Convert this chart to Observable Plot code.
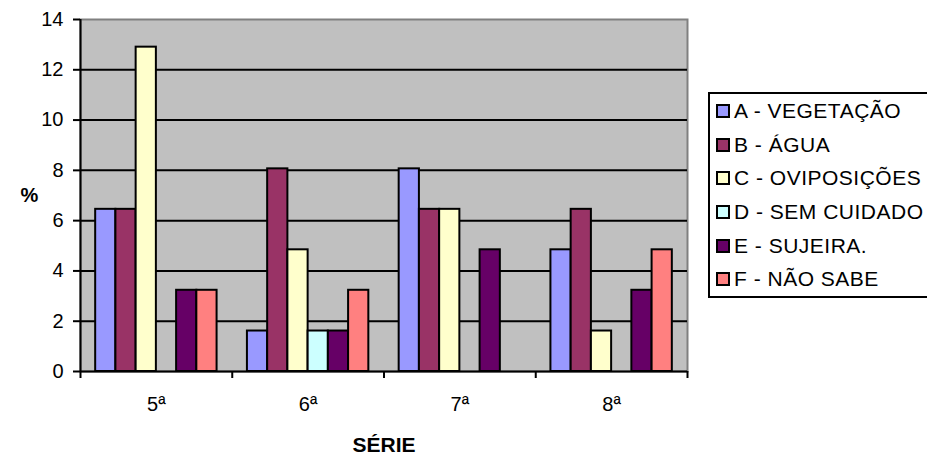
<!DOCTYPE html>
<html>
<head>
<meta charset="utf-8">
<script src="https://cdn.jsdelivr.net/npm/d3@7"></script>
<script src="https://cdn.jsdelivr.net/npm/@observablehq/plot@0.6"></script>
<style>
  html, body { margin: 0; padding: 0; background: #fff; overflow: hidden; }
  #chart { position: relative; width: 927px; height: 455px; font-family: "Liberation Sans", Arial, sans-serif; }
  #chart svg { position: absolute; left: 0; top: 0; }
  #legend { position: absolute; left: 708px; top: 92px; width: 240px; border: 2px solid #000; background: #fff; }
  #legend .item { height: 33.7px; display: flex; align-items: center; font-size: 21px; letter-spacing: 0.5px; white-space: nowrap; color: #000; }
  #legend .sw { width: 10px; height: 10px; border: 2px solid #000; margin-left: 6px; margin-right: 4px; flex: none; }
</style>
</head>
<body>
<div id="chart"></div>
<script>
// School grades on the x axis
const grades = ["5ª", "6ª", "7ª", "8ª"];

// Answer categories (legend order) and their fill colours
const categories = ["A - VEGETAÇÃO", "B - ÁGUA", "C - OVIPOSIÇÕES", "D - SEM CUIDADO", "E - SUJEIRA.", "F - NÃO SABE"];
const colors = ["#9999ff", "#993366", "#ffffcc", "#ccffff", "#660066", "#ff8080"];

// Percentage of answers per category, one value per grade (5ª, 6ª, 7ª, 8ª)
const vegetacao    = [6.45, 1.61, 8.06, 4.84];
const agua         = [6.45, 8.06, 6.45, 6.45];
const oviposicoes  = [12.9, 4.84, 6.45, 1.61];
const semCuidado   = [0, 1.61, 0, 0];
const sujeira      = [3.23, 1.61, 4.84, 3.23];
const naoSabe      = [3.23, 3.23, 0, 4.84];

const series = [vegetacao, agua, oviposicoes, semCuidado, sujeira, naoSabe];
const yTicks = [0, 2, 4, 6, 8, 10, 12, 14];

// Long table; each grade occupies one unit on x, bars side by side within 80% of it
const groupPad = 0.1;
const barW = (1 - 2 * groupPad) / categories.length;
const rows = [];
series.forEach((vals, j) => {
  vals.forEach((v, i) => {
    if (v > 0) {
      const x1 = i + groupPad + j * barW;
      rows.push({grade: grades[i], category: categories[j], value: v, x1, x2: x1 + barW});
    }
  });
});

const font = "'Liberation Sans', Arial, sans-serif";

const chart = Plot.plot({
  width: 927,
  height: 455,
  marginLeft: 80,
  marginRight: 240,
  marginTop: 19,
  marginBottom: 84,
  style: {fontFamily: font, fontSize: "20px", background: "transparent", color: "#000"},
  x: {domain: [0, grades.length]},
  y: {domain: [0, 14]},
  color: {domain: categories, range: colors},
  marks: [
    Plot.frame({fill: "#c0c0c0", stroke: "#808080", strokeWidth: 2}),
    Plot.ruleY(yTicks.filter(d => d > 0 && d < 14), {stroke: "#000", strokeWidth: 2}),
    Plot.rectY(rows, {x1: "x1", x2: "x2", y: "value", fill: "category", stroke: "#000", strokeWidth: 2}),
    Plot.ruleY([0], {stroke: "#000", strokeWidth: 2}),
    Plot.ruleX([0], {stroke: "#000", strokeWidth: 2}),
    Plot.axisY({ticks: yTicks, tickSize: 7, tickPadding: 10, strokeWidth: 2, label: null, fontSize: 20}),
    Plot.axisX({ticks: d3.range(grades.length + 1), tickSize: 7, strokeWidth: 2, tickFormat: () => "", label: null}),
    Plot.axisX({ticks: grades.map((g, i) => i + 0.5), tickSize: 0, tickPadding: 25, tickFormat: d => grades[Math.floor(d)], label: null, fontSize: 20}),
    Plot.text(["SÉRIE"], {frameAnchor: "bottom", dy: 80, fontWeight: "bold", fontSize: 21}),
    Plot.text(["%"], {frameAnchor: "left", dx: -60, fontWeight: "bold", fontSize: 20})
  ]
});

const root = document.getElementById("chart");
root.appendChild(chart);

// Legend box at the right of the plot area
const legend = document.createElement("div");
legend.id = "legend";
categories.forEach((c, j) => {
  const item = document.createElement("div");
  item.className = "item";
  const sw = document.createElement("span");
  sw.className = "sw";
  sw.style.background = colors[j];
  const label = document.createElement("span");
  label.textContent = c;
  item.appendChild(sw);
  item.appendChild(label);
  legend.appendChild(item);
});
root.appendChild(legend);
</script>
</body>
</html>
